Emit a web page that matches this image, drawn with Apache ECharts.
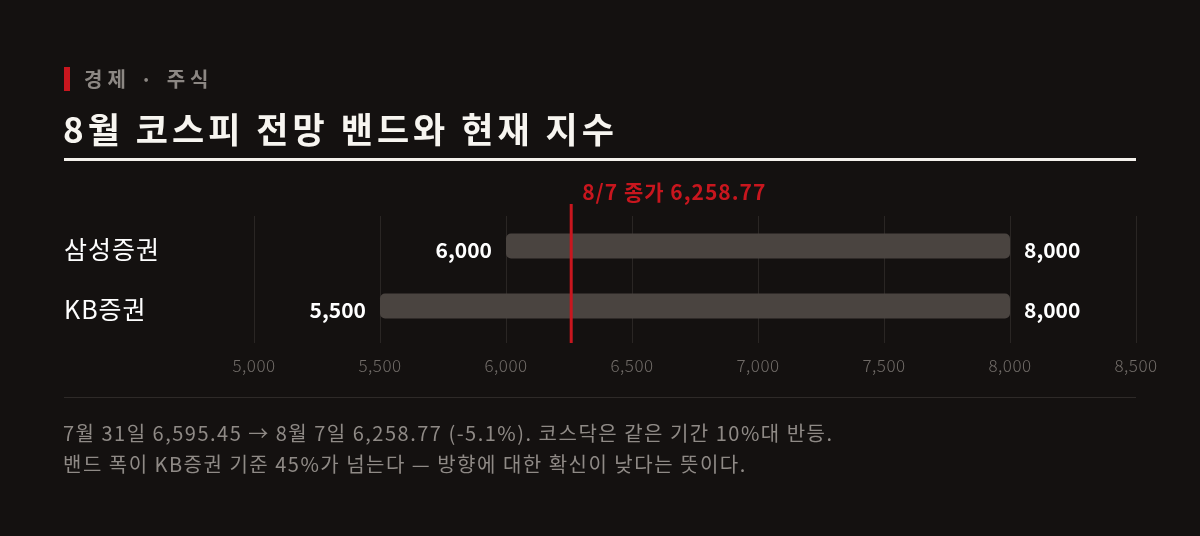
<!DOCTYPE html>
<html>
<head>
<meta charset="utf-8">
<script src="https://cdn.jsdelivr.net/npm/echarts@6/dist/echarts.min.js"></script>
<style>
html,body{margin:0;padding:0;background:#141110;}
#c{width:1200px;height:536px;}
</style>
</head>
<body>
<div id="c"></div>
<script>
const kicker = '경제 · 주식';
const title = '8월 코스피 전망 밴드와 현재 지수';
const categories = ['삼성증권', 'KB증권'];
const bandLow = [6000, 5500];
const bandHigh = [8000, 8000];
const closeValue = 6258.77;
const closeLabel = '8/7 종가 6,258.77';
const axisMin = 5000, axisMax = 8500, axisStep = 500;
const footnote1 = '7월 31일 6,595.45 → 8월 7일 6,258.77 (-5.1%). 코스닥은 같은 기간 10%대 반등.';
const footnote2 = '밴드 폭이 KB증권 기준 45%가 넘는다 — 방향에 대한 확신이 낮다는 뜻이다.';

const FONT = '"Noto Sans CJK KR", "Noto Sans", sans-serif';
const C_KICKER = '#8c8783', C_TITLE = '#f7f5f0', C_RED = '#c8161e', C_AXIS = '#716c68', C_CAT = '#fefefe', C_NOTE = '#8f8a86';
const fmt = v => v.toLocaleString('en-US');

// letter spacing per text colour (canvas native letterSpacing)
(function () {
  const SP = {};
  SP[C_KICKER] = 5; SP[C_TITLE] = 4; SP[C_RED] = 1; SP[C_NOTE] = 1.5; SP[C_AXIS] = 0.5; SP[C_CAT] = 1;
  const proto = CanvasRenderingContext2D.prototype;
  if (!('letterSpacing' in proto)) return;
  const orig = proto.fillText;
  proto.fillText = function (t, x, y, w) {
    const s = SP[String(this.fillStyle).toLowerCase()];
    this.letterSpacing = s ? s + 'px' : '0px';
    return w === undefined ? orig.call(this, t, x, y) : orig.call(this, t, x, y, w);
  };
})();

const chart = echarts.init(document.getElementById('c'), null, {renderer: 'canvas'});
chart.setOption({
  backgroundColor: '#141110',
  animation: false,
  textStyle: {fontFamily: FONT},
  title: [
    {text: kicker, left: 84, top: 69, padding: 0, textStyle: {color: C_KICKER, fontSize: 20, fontWeight: 'bold', fontFamily: FONT}},
    {text: title, left: 63, top: 112, padding: 0, textStyle: {color: C_TITLE, fontSize: 35, fontWeight: 'bold', fontFamily: FONT}},
    {text: footnote1 + '\n' + footnote2, left: 63, top: 418, padding: 0,
      textStyle: {color: C_NOTE, fontSize: 20, fontWeight: 'normal', lineHeight: 31, fontFamily: FONT}}
  ],
  graphic: [
    {type: 'rect', shape: {x: 64, y: 67, width: 6, height: 24}, style: {fill: '#c8161e'}},
    {type: 'rect', shape: {x: 64, y: 158, width: 1072, height: 3}, style: {fill: '#f4f1ec'}},
    {type: 'rect', shape: {x: 64, y: 397, width: 1072, height: 1}, style: {fill: '#2e2a28'}}
  ],
  grid: [
    {left: 254, right: 64, top: 216, height: 120},
    {left: 254, right: 64, top: 216, height: 127},
    {left: 254, right: 64, top: 204, height: 139}
  ],
  xAxis: [
    {gridIndex: 0, type: 'value', min: axisMin, max: axisMax, interval: axisStep, show: false},
    {gridIndex: 1, type: 'value', min: axisMin, max: axisMax, interval: axisStep,
      axisLine: {show: false}, axisTick: {show: false},
      splitLine: {show: true, lineStyle: {color: '#2a2624', width: 1}},
      axisLabel: {color: C_AXIS, fontSize: 17, fontWeight: 300, margin: 14, fontFamily: FONT, formatter: v => fmt(v)}},
    {gridIndex: 2, type: 'value', min: axisMin, max: axisMax, show: false}
  ],
  yAxis: [
    {gridIndex: 0, type: 'category', data: categories, inverse: true,
      axisLine: {show: false}, axisTick: {show: false}, splitLine: {show: false},
      axisLabel: {color: C_CAT, fontSize: 25, align: 'left', verticalAlign: 'top', lineHeight: 7, margin: 190, fontFamily: FONT}},
    {gridIndex: 1, type: 'value', min: 0, max: 1, show: false},
    {gridIndex: 2, type: 'value', min: 0, max: 1, show: false}
  ],
  series: [
    {type: 'bar', xAxisIndex: 0, yAxisIndex: 0, stack: 'band', barWidth: 25,
      data: bandLow, itemStyle: {color: 'transparent'}, silent: true,
      label: {show: true, position: 'insideRight', distance: 14, offset: [0, 4], color: '#ffffff', fontSize: 21, fontWeight: 'bold', fontFamily: FONT,
        formatter: p => fmt(p.value)}},
    {type: 'bar', xAxisIndex: 0, yAxisIndex: 0, stack: 'band', barWidth: 25,
      data: bandHigh.map((h, i) => h - bandLow[i]),
      itemStyle: {color: '#4a4440', borderRadius: 5},
      label: {show: true, position: 'right', distance: 14, offset: [0, 4], color: '#ffffff', fontSize: 21, fontWeight: 'bold', fontFamily: FONT,
        formatter: p => fmt(bandHigh[p.dataIndex])}},
    {type: 'line', xAxisIndex: 2, yAxisIndex: 2, data: [[closeValue, 0], [closeValue, 1]],
      symbol: 'none', lineStyle: {color: C_RED, width: 3},
      endLabel: {show: true, formatter: closeLabel, color: C_RED, fontSize: 21, fontWeight: 'bold', fontFamily: FONT,
        align: 'left', verticalAlign: 'bottom', offset: [3, -1]}}
  ]
});
</script>
</body>
</html>
